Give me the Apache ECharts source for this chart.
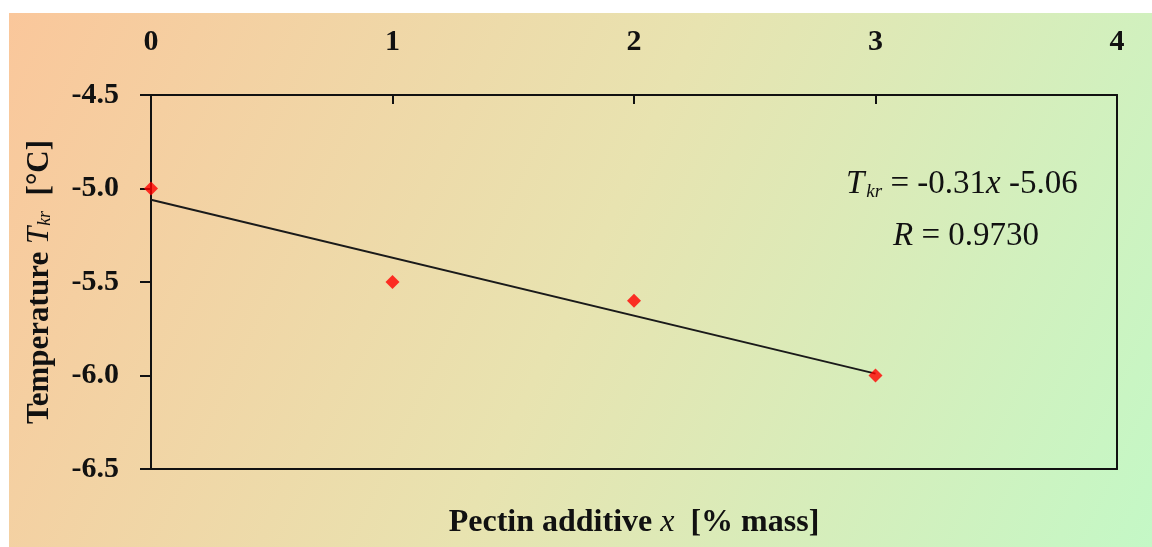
<!DOCTYPE html>
<html>
<head>
<meta charset="utf-8">
<script src="https://cdn.jsdelivr.net/npm/echarts@6/dist/echarts.min.js"></script>
<style>
  html, body { margin: 0; padding: 0; background: #fff; }
  #chart { width: 1152px; height: 547px; }
</style>
</head>
<body>
<div id="chart"></div>
<script>
// measured points
const pectinX = [0, 1, 2, 3]
const tempY = [-5.0, -5.5, -5.6, -6.0]
// fitted line end points (Tkr = -0.31x - 5.06)
const fitX = [0, 3]
const fitY = [-5.06, -5.99]
const xTicks = [0, 1, 2, 3, 4]
const yTicks = [-4.5, -5.0, -5.5, -6.0, -6.5]

const serif = '"Liberation Serif", "DejaVu Serif", serif'
const chart = echarts.init(document.getElementById('chart'))

const option = {
  animation: false,
  graphic: [
    {
      type: 'rect',
      z: -10,
      silent: true,
      shape: { x: 9, y: 13, width: 1143, height: 534 },
      style: {
        fill: new echarts.graphic.LinearGradient(0, 0, 1, 1, [
          { offset: 0, color: '#fac79b' },
          { offset: 0.5, color: '#e8e3b0' },
          { offset: 1, color: '#c4f8c6' }
        ])
      }
    },
    {
      type: 'text',
      left: 846,
      top: 168,
      style: {
        text: '{i|T}{sub|kr} = -0.31{i|x} -5.06',
        font: '33px ' + serif,
        fill: '#111',
        rich: {
          i: { fontStyle: 'italic', fontSize: 33, fontFamily: serif, fill: '#111' },
          sub: { fontStyle: 'italic', fontSize: 19, fontFamily: serif, padding: [15, 0, 0, 2], fill: '#111' }
        }
      }
    },
    {
      type: 'text',
      left: 893,
      top: 220,
      style: {
        text: '{i|R} = 0.9730',
        font: '33px ' + serif,
        fill: '#111',
        rich: {
          i: { fontStyle: 'italic', fontSize: 33, fontFamily: serif, fill: '#111' }
        }
      }
    }
  ],
  grid: { left: 151, top: 95, right: 35, bottom: 78 },
  xAxis: [
    {
      type: 'value',
      position: 'top',
      min: 0,
      max: 4,
      interval: 1,
      axisLine: { show: true, lineStyle: { color: '#111', width: 2 } },
      axisTick: { show: true, inside: true, length: 9, lineStyle: { color: '#111', width: 2 } },
      axisLabel: {
        margin: 38,
        color: '#111',
        fontFamily: serif,
        fontSize: 30,
        fontWeight: 'bold',
        formatter: (v) => (xTicks.includes(v) ? String(v) : '')
      },
      splitLine: { show: false }
    },
    {
      type: 'value',
      position: 'bottom',
      min: 0,
      max: 4,
      axisLine: { show: true, onZero: false, lineStyle: { color: '#111', width: 2 } },
      axisTick: { show: false },
      axisLabel: { show: false },
      splitLine: { show: false },
      name: 'Pectin additive {i|x}  [% mass]',
      nameLocation: 'middle',
      nameGap: 38,
      nameTextStyle: {
        color: '#111',
        fontFamily: serif,
        fontSize: 32,
        fontWeight: 'bold',
        rich: {
          i: { fontStyle: 'italic', fontWeight: 'normal', fontSize: 32, fontFamily: serif, color: '#111' }
        }
      }
    }
  ],
  yAxis: [
    {
      type: 'value',
      min: -6.5,
      max: -4.5,
      interval: 0.5,
      axisLine: { show: true, onZero: false, lineStyle: { color: '#111', width: 2 } },
      axisTick: { show: true, length: 11, lineStyle: { color: '#111', width: 2 } },
      axisLabel: {
        margin: 32,
        color: '#111',
        fontFamily: serif,
        fontSize: 30,
        fontWeight: 'bold',
        formatter: (v) => (yTicks.some((t) => Math.abs(t - v) < 1e-9) ? v.toFixed(1) : '')
      },
      splitLine: { show: false },
      name: 'Temperature {i|T}{sub|kr}  [°C]',
      nameLocation: 'middle',
      nameRotate: 90,
      nameGap: 96,
      nameTextStyle: {
        color: '#111',
        fontFamily: serif,
        fontSize: 31,
        fontWeight: 'bold',
        rich: {
          i: { fontStyle: 'italic', fontWeight: 'normal', fontSize: 31, fontFamily: serif, color: '#111' },
          sub: { fontStyle: 'italic', fontWeight: 'normal', fontSize: 18, fontFamily: serif, color: '#111', padding: [12, 0, 0, 1] }
        }
      }
    },
    {
      type: 'value',
      position: 'right',
      min: -6.5,
      max: -4.5,
      axisLine: { show: true, onZero: false, lineStyle: { color: '#111', width: 2 } },
      axisTick: { show: false },
      axisLabel: { show: false },
      splitLine: { show: false }
    }
  ],
  series: [
    {
      type: 'line',
      xAxisIndex: 0,
      yAxisIndex: 0,
      data: fitX.map((x, i) => [x, fitY[i]]),
      symbol: 'none',
      lineStyle: { color: '#1a1a1a', width: 2 },
      z: 2
    },
    {
      type: 'scatter',
      xAxisIndex: 0,
      yAxisIndex: 0,
      data: pectinX.map((x, i) => [x, tempY[i]]),
      symbol: 'diamond',
      symbolSize: 14,
      itemStyle: { color: '#ff0000' },
      z: 3
    }
  ]
}

chart.setOption(option)
</script>
</body>
</html>
